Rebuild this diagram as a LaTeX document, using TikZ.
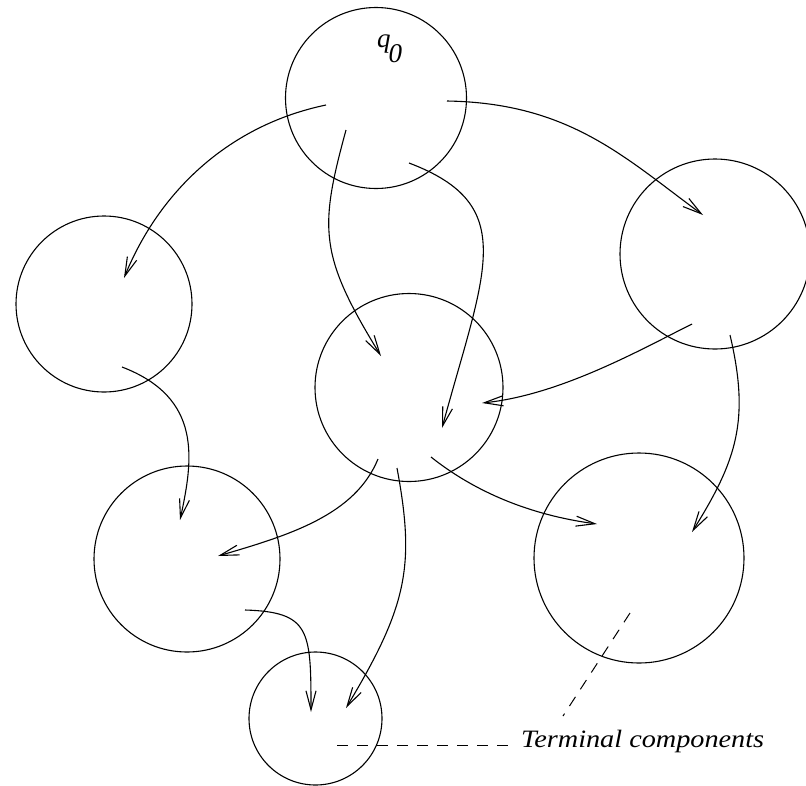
\documentclass[tikz,border=0pt]{standalone}
\usepackage{fontspec}
\setmainfont{Liberation Serif}[ItalicFont={Liberation Serif Italic}]
\usetikzlibrary{arrows.meta}
\begin{document}
\begin{tikzpicture}[x=1pt,y=-1pt,
  comp/.style={draw, circle, inner sep=0pt, line width=1.1pt},
  arr/.style={-{Straight Barb[length=19pt,width=10pt]}, line width=1.1pt},
  lead/.style={dash pattern=on 11pt off 9pt, line width=1pt}]
\useasboundingbox (0,0) rectangle (806,785);

% strongly connected components
\node[comp, minimum size=181pt] (c0)  at (376,98)    {};
\node[comp, minimum size=176pt] (cl)  at (104,304)   {};
\node[comp, minimum size=190pt] (cr)  at (715,254)   {};
\node[comp, minimum size=188pt] (cm)  at (409,387.5) {};
\node[comp, minimum size=186pt] (cll) at (187,559)   {};
\node[comp, minimum size=210pt] (clr) at (639,558)   {};
\node[comp, minimum size=133pt] (cb)  at (315.5,718.5) {};

% initial state label
\node[anchor=base west, inner sep=0pt, font=\fontsize{27}{27}\selectfont\itshape] (q0) at (377,47) {q\kern-2pt\raisebox{-15pt}{0}};

% transitions between components
\coordinate (a1s) at (326,105); \coordinate (a1e) at (124,278);
\draw[arr] (a1s) .. controls (230,125) and (160,190) .. (a1e);

\coordinate (a2s) at (346,130); \coordinate (a2e) at (381,356);
\draw[arr] (a2s) .. controls (319,229) and (319,255) .. (a2e);

\coordinate (a3s) at (409,163); \coordinate (a3e) at (442,428);
\draw[arr] (a3s) .. controls (520,205) and (485,270) .. (a3e);

\coordinate (a4s) at (447,101); \coordinate (a4e) at (703,215);
\draw[arr] (a4s) .. controls (570,103) and (625,158) .. (a4e);

\coordinate (a5s) at (692,324); \coordinate (a5e) at (482,403);
\draw[arr] (a5s) .. controls (640,350) and (560,395) .. (a5e);

\coordinate (a6s) at (730,335); \coordinate (a6e) at (692,532);
\draw[arr] (a6s) .. controls (750,420) and (737,460) .. (a6e);

\coordinate (a7s) at (122,367); \coordinate (a7e) at (180,520);
\draw[arr] (a7s) .. controls (203,398) and (193,460) .. (a7e);

\coordinate (a8s) at (378,459); \coordinate (a8e) at (218,556);
\draw[arr] (a8s) .. controls (355,515) and (290,535) .. (a8e);

\coordinate (a9s) at (397,468); \coordinate (a9e) at (346,708);
\draw[arr] (a9s) .. controls (415,565) and (408,605) .. (a9e);

\coordinate (a10s) at (431,457); \coordinate (a10e) at (597,524);
\draw[arr] (a10s) .. controls (475,492) and (530,515) .. (a10e);

\coordinate (a11s) at (245,610); \coordinate (a11e) at (311,712);
\draw[arr] (a11s) .. controls (310,612) and (311,630) .. (a11e);

% annotation
\node[anchor=base west, inner sep=0pt, font=\fontsize{25}{25}\selectfont\itshape] (tc) at (521,747) {\scalebox{1.13}[1]{Terminal components}};
\coordinate (l1a) at (630,613); \coordinate (l1b) at (563,716);
\draw[lead] (l1a) -- (l1b);
\coordinate (l2a) at (337,745); \coordinate (l2b) at (510,745);
\draw[lead] (l2a) -- (l2b);
\end{tikzpicture}
\end{document}
